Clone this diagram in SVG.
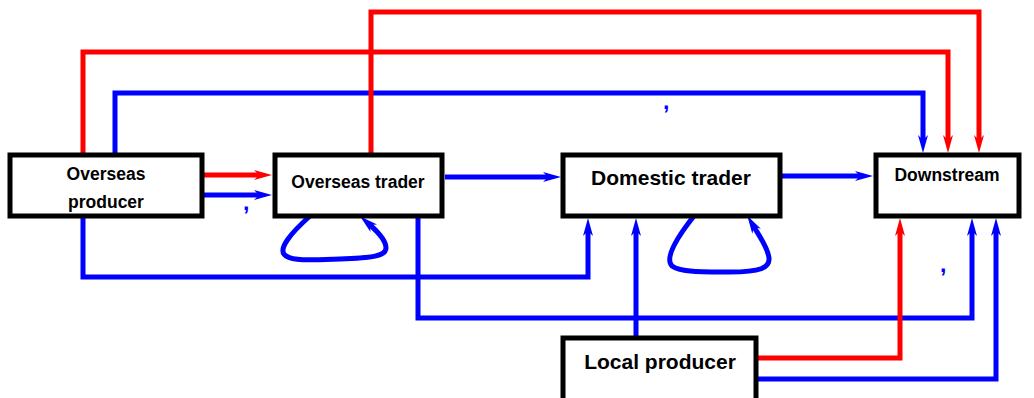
<svg xmlns="http://www.w3.org/2000/svg" width="1034" height="398" viewBox="0 0 1034 398">
<style>
.box{fill:#fff;stroke:#000;stroke-width:5}
.t{font-family:"Liberation Sans",Arial,sans-serif;font-weight:bold;fill:#000;text-anchor:middle}
.r{fill:none;stroke:#ff0000;stroke-width:5;stroke-linejoin:miter}
.b{fill:none;stroke:#0000ff;stroke-width:5;stroke-linejoin:miter}
.c{font-family:"Liberation Sans",Arial,sans-serif;font-weight:bold;font-size:23px;fill:#0000ff}
</style>
<defs>
<marker id="ar" markerUnits="userSpaceOnUse" markerWidth="20" markerHeight="12" refX="5" refY="5" orient="auto" overflow="visible"><path d="M0,0 L18,5 L0,10 L5,5 z" fill="#ff0000"/></marker>
<marker id="ab" markerUnits="userSpaceOnUse" markerWidth="20" markerHeight="12" refX="5" refY="5" orient="auto" overflow="visible"><path d="M0,0 L18,5 L0,10 L5,5 z" fill="#0000ff"/></marker>
</defs>
<g id="connectors">
<path class="r" d="M83,153 V52 H948 V140" marker-end="url(#ar)"/>
<path class="b" d="M115,153 V93 H923 V140" marker-end="url(#ab)"/>
<path class="r" d="M371,153 V12 H979 V140" marker-end="url(#ar)"/>
<path class="r" d="M204,175 H259" marker-end="url(#ar)"/>
<path class="b" d="M204,195 H259" marker-end="url(#ab)"/>
<path class="b" d="M445,177 H548" marker-end="url(#ab)"/>
<path class="b" d="M782,176 H860" marker-end="url(#ab)"/>
<path class="b" d="M83,218 V277 H588 V231" marker-end="url(#ab)"/>
<path class="b" d="M636,336 V231" marker-end="url(#ab)"/>
<path class="b" d="M418,218 V318 H972 V231" marker-end="url(#ab)"/>
<path class="r" d="M758,358 H900 V231" marker-end="url(#ar)"/>
<path class="b" d="M758,379 H996 V231" marker-end="url(#ab)"/>
<path class="b" d="M310,216 C292,232 276,250 286,256 C294,261 310,260 340,259 C372,258 386,256 386,248 C386,240 378,232 370,225" marker-end="url(#ab)"/>
<path class="b" d="M694,216 C678,236 664,258 672,266 C680,272 700,272 730,272 C760,272 770,268 769,258 C768,248 760,237 754,227" marker-end="url(#ab)"/>
<text class="c" x="243" y="210">,</text>
<text class="c" x="663" y="109">,</text>
<text class="c" x="940" y="272">,</text>
</g>
<g id="overseas-producer">
<rect class="box" x="10" y="155" width="192" height="61"/>
<text class="t" x="106" y="180" font-size="17.5">Overseas</text>
<text class="t" x="106" y="208" font-size="17.5">producer</text>
</g>
<g id="overseas-trader">
<rect class="box" x="275" y="155" width="167" height="61"/>
<text class="t" x="358" y="188" font-size="17.5">Overseas trader</text>
</g>
<g id="domestic-trader">
<rect class="box" x="563" y="155" width="217" height="61"/>
<text class="t" x="671" y="185" font-size="21">Domestic trader</text>
</g>
<g id="downstream">
<rect class="box" x="876" y="155" width="143" height="61"/>
<text class="t" x="947" y="181" font-size="17.5">Downstream</text>
</g>
<g id="local-producer">
<rect class="box" x="563" y="338" width="193" height="70"/>
<text class="t" x="660" y="369" font-size="21">Local producer</text>
</g>
</svg>
